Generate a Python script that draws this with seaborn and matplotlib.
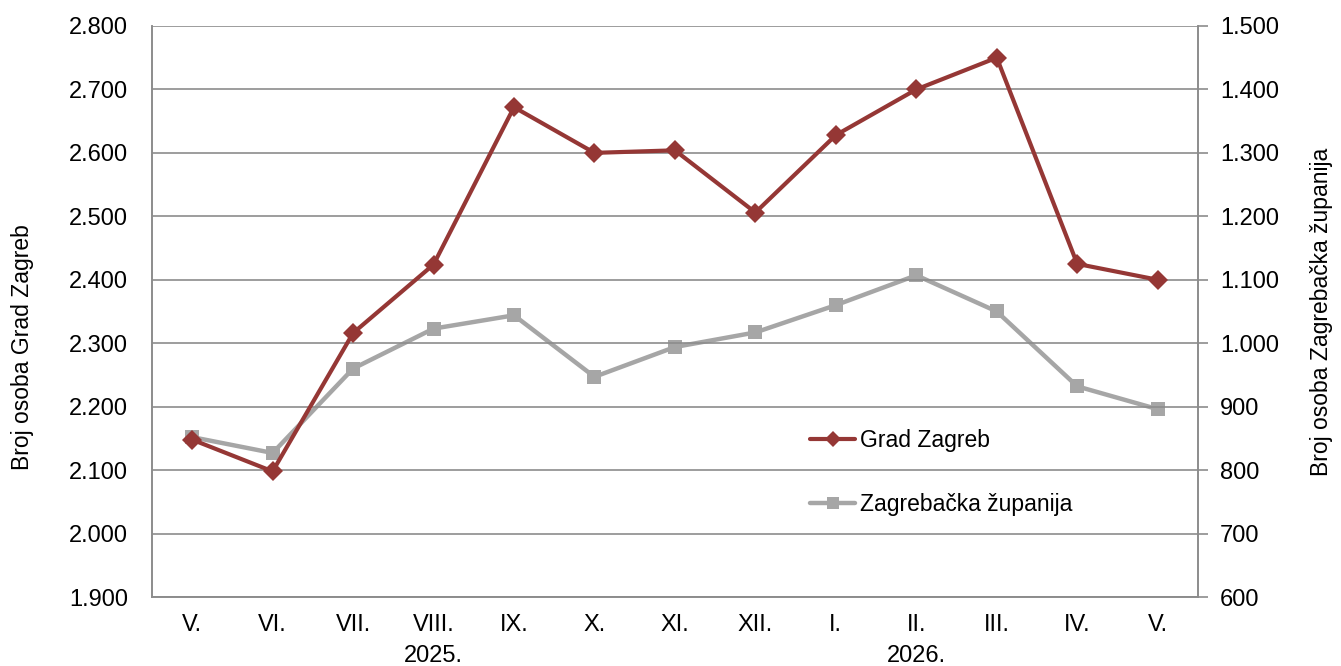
import matplotlib
matplotlib.use("Agg")
import matplotlib.pyplot as plt
import matplotlib.ticker as mticker
from matplotlib.lines import Line2D
from matplotlib.transforms import blended_transform_factory
import seaborn as sns
import pandas as pd

months = ["V.", "VI.", "VII.", "VIII.", "IX.", "X.", "XI.", "XII.", "I.", "II.", "III.", "IV.", "V."]
years = ["2025.", "2026."]
year_positions = [3, 9]
grad_zagreb = [2148, 2098, 2316, 2424, 2672, 2600, 2604, 2506, 2628, 2700, 2750, 2425, 2400]
zagrebacka = [852, 827, 960, 1023, 1044, 947, 994, 1017, 1060, 1107, 1050, 932, 896]

RED = "#953735"
GREY = "#A6A6A6"
GRID = "#8C8C8C"

sns.set_style("white")
plt.rcParams["font.family"] = ["Liberation Sans", "DejaVu Sans"]
plt.rcParams["text.color"] = "black"
plt.rcParams["axes.labelcolor"] = "black"
plt.rcParams["xtick.color"] = "black"
plt.rcParams["ytick.color"] = "black"

FS_TICK = 17
FS = 16.5

df = pd.DataFrame({"x": range(len(months)), "grad": grad_zagreb, "zup": zagrebacka})

fig = plt.figure(figsize=(13.41, 6.66), dpi=100)
ax = fig.add_axes([0.1133, 0.1036, 0.78, 0.8574])
ax2 = ax.twinx()

sns.lineplot(data=df, x="x", y="zup", ax=ax2, color=GREY, lw=3.2, marker="s",
             markersize=9.5, markeredgewidth=0, zorder=3)
sns.lineplot(data=df, x="x", y="grad", ax=ax, color=RED, lw=3.0, marker="D",
             markersize=10.5, markeredgewidth=0, zorder=4)
ax.set_zorder(ax2.get_zorder() + 1)
ax.patch.set_visible(False)

ax.set_xlim(-0.5, len(months) - 0.5)
ax.set_ylim(1900, 2800)
ax2.set_ylim(600, 1500)
ax.set_yticks(range(1900, 2801, 100))
ax2.set_yticks(range(600, 1501, 100))
fmt = mticker.FuncFormatter(lambda v, p: f"{v:,.0f}".replace(",", "."))
ax.yaxis.set_major_formatter(fmt)
ax2.yaxis.set_major_formatter(fmt)
ax.set_xticks(range(len(months)))
ax.set_xticklabels(months)

ax.grid(axis="y", color=GRID, lw=1.2)
ax.grid(axis="x", visible=False)
ax2.grid(False)

for a in (ax, ax2):
    for s in a.spines.values():
        s.set_color(GRID)
        s.set_linewidth(1.2)
    a.spines["top"].set_visible(False)

ax.tick_params(axis="x", length=0, pad=12, labelsize=FS_TICK, labelcolor="black")
ax.tick_params(axis="y", length=0, pad=17, labelsize=FS_TICK, labelcolor="black")
ax2.tick_params(axis="y", length=7, width=1.2, color=GRID, pad=9, labelsize=FS_TICK, labelcolor="black")

ax.set_xlabel("")
ax.set_ylabel("Broj osoba Grad Zagreb", fontsize=FS, color="black")
ax.yaxis.set_label_coords(-0.113, 0.438)
ax2.set_ylabel("Broj osoba Zagrebačka županija", fontsize=FS, labelpad=22, color="black")

tr = blended_transform_factory(ax.transData, ax.transAxes)
for yl, xp in zip(years, year_positions):
    ax.text(xp, -0.104, yl, transform=tr, ha="center", va="center", fontsize=FS_TICK, color="black")

handles = [
    Line2D([], [], color=RED, lw=3.0, marker="D", markersize=8.5, markeredgewidth=0),
    Line2D([], [], color=GREY, lw=3.2, marker="s", markersize=8, markeredgewidth=0),
]
ax.legend(handles, ["Grad Zagreb", "Zagrebačka županija"], loc="upper left",
          bbox_to_anchor=(0.62, 0.31), frameon=False, fontsize=FS,
          handlelength=2.0, handletextpad=0.2, labelspacing=1.8, borderaxespad=0)

fig.savefig("out.png", dpi=100)
